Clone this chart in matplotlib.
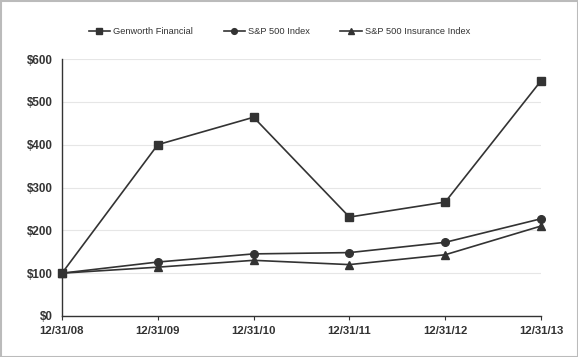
import matplotlib
matplotlib.use("Agg")
import matplotlib.pyplot as plt
from matplotlib.patches import Rectangle

dates = ["12/31/08", "12/31/09", "12/31/10", "12/31/11", "12/31/12", "12/31/13"]
genworth = [100, 400, 464, 231, 266, 549]
sp500 = [100, 126, 145, 148, 172, 227]
sp_ins = [100, 114, 130, 120, 143, 210]
yticks = [0, 100, 200, 300, 400, 500, 600]
ytick_labels = ["$0", "$100", "$200", "$300", "$400", "$500", "$600"]

plt.rcParams['font.family'] = ['Liberation Sans', 'DejaVu Sans']

fig = plt.figure(figsize=(5.78, 3.57), dpi=100)
ax = fig.add_axes([62/578, 1-316/357, (541-62)/578, (316-59)/357])

col = "#333333"
x = list(range(len(dates)))
ax.plot(x, genworth, color=col, lw=1.2, marker="s", ms=6, label="Genworth Financial", clip_on=False, zorder=3)
ax.plot(x, sp500, color=col, lw=1.2, marker="o", ms=5.5, label="S&P 500 Index", clip_on=False, zorder=3)
ax.plot(x, sp_ins, color=col, lw=1.2, marker="^", ms=5.5, label="S&P 500 Insurance Index", clip_on=False, zorder=3)

ax.set_xlim(0, len(dates)-1)
ax.set_ylim(0, 600)
ax.set_xticks(x)
ax.set_xticklabels(dates, fontsize=8.2, fontweight="bold", color=col)
ax.set_yticks(yticks)
ax.set_yticklabels(ytick_labels, fontsize=8.4, fontweight="bold", color=col)
ax.tick_params(axis="y", length=0, pad=7)
ax.tick_params(axis="x", length=3, color=col, pad=4)
ax.grid(axis="y", color="#e6e6e6", lw=0.8)
ax.set_axisbelow(True)
for s in ["top", "right"]:
    ax.spines[s].set_visible(False)
for s in ["left", "bottom"]:
    ax.spines[s].set_color(col)
    ax.spines[s].set_linewidth(1.0)

leg = fig.legend(loc="center left", bbox_to_anchor=(86/578, 1-32/357), ncol=3, frameon=False,
                 fontsize=6.7, handlelength=2.3, columnspacing=3.3, handletextpad=0.3,
                 markerscale=0.75, borderaxespad=0, borderpad=0.3)
for t in leg.get_texts():
    t.set_color(col)

fig.patches.append(Rectangle((0.5/578, 0.5/357), 1-1/578, 1-1/357, transform=fig.transFigure,
                             fill=False, edgecolor="#bbbbbb", lw=1.5))

fig.savefig("out.png", dpi=100)
